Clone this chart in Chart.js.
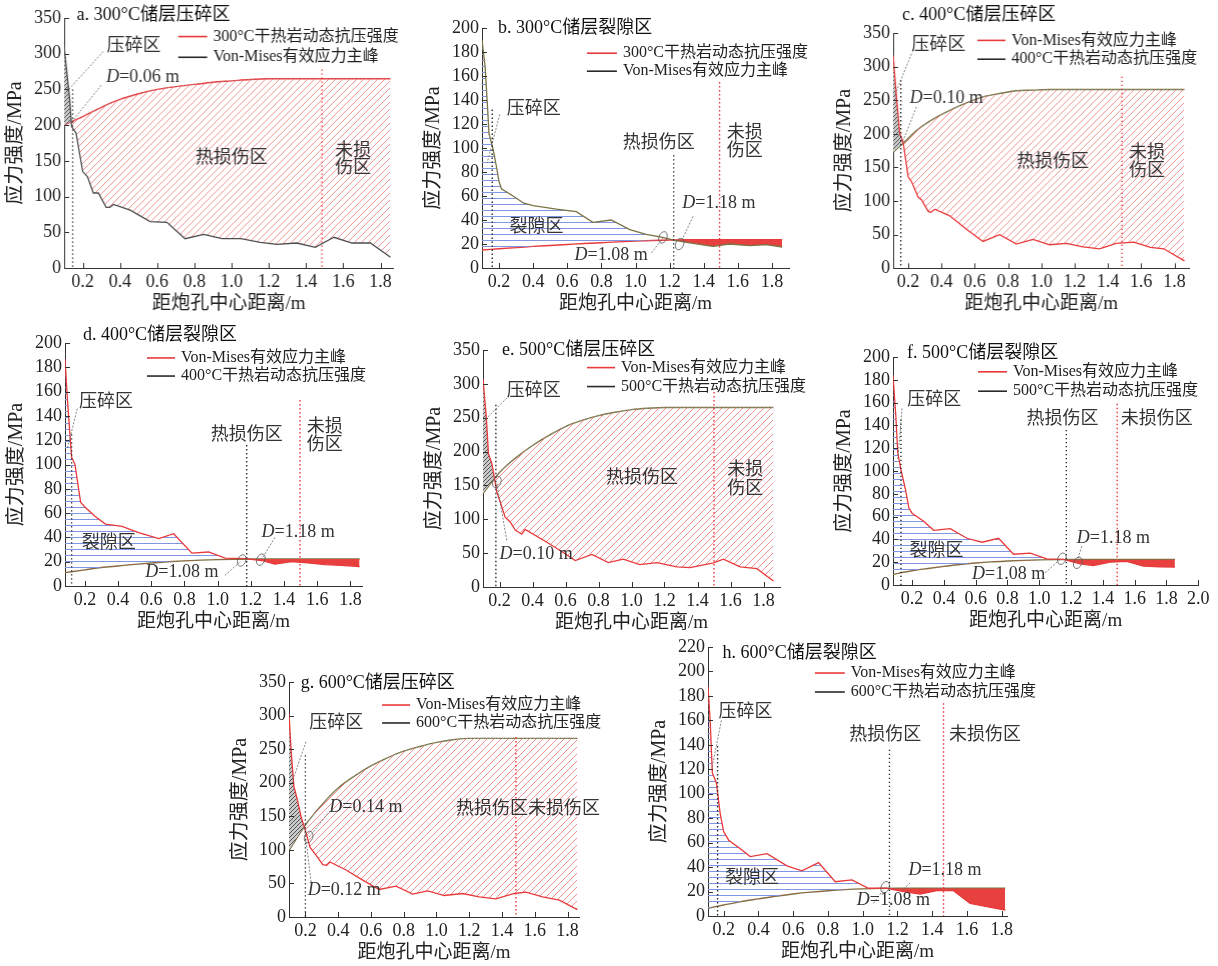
<!DOCTYPE html>
<html>
<head>
<meta charset="utf-8">
<script src="https://cdn.jsdelivr.net/npm/chart.js@4"></script>
<style>
body { margin: 0; background: #fff; width: 1218px; height: 966px; position: relative; overflow: hidden; }
.p { position: absolute; }
</style>
</head>
<body>
<div class="p" id="wa"><canvas id="a"></canvas></div>
<div class="p" id="wb"><canvas id="b"></canvas></div>
<div class="p" id="wc"><canvas id="c"></canvas></div>
<div class="p" id="wd"><canvas id="d"></canvas></div>
<div class="p" id="we"><canvas id="e"></canvas></div>
<div class="p" id="wf"><canvas id="f"></canvas></div>
<div class="p" id="wg"><canvas id="g"></canvas></div>
<div class="p" id="wh"><canvas id="h"></canvas></div>
<script>
// tick labels
const xTicks18 = [0.2, 0.4, 0.6, 0.8, 1.0, 1.2, 1.4, 1.6, 1.8];
const xTicks20 = [0.2, 0.4, 0.6, 0.8, 1.0, 1.2, 1.4, 1.6, 1.8, 2.0];
const yTicks350 = [0, 50, 100, 150, 200, 250, 300, 350];
const yTicks200 = [0, 20, 40, 60, 80, 100, 120, 140, 160, 180, 200];
const yTicks220 = [0, 20, 40, 60, 80, 100, 120, 140, 160, 180, 200, 220];

// a. 300C crushed zone
const distA = [0.1, 0.13, 0.14, 0.164, 0.2, 0.225, 0.257, 0.284, 0.326, 0.345, 0.365, 0.455, 0.562, 0.652, 0.75, 0.85, 0.948, 1.05, 1.154, 1.244, 1.35, 1.45, 1.55, 1.647, 1.746, 1.854];
const vmA = [310, 236, 198, 189, 135, 128, 105, 105, 85, 85, 89, 81, 65, 64, 41, 47, 41, 41, 36, 33, 35, 29, 43, 35, 35, 15];
const strDistA = [0.1, 0.15, 0.2, 0.3, 0.4, 0.5, 0.6, 0.7, 0.8, 0.9, 1.0, 1.1, 1.2, 1.854];
const strA = [200, 206, 212, 225, 236, 244, 250, 254, 257, 260, 262, 264, 265, 265];

// b. 300C fissure zone
const distB = [0.1, 0.118, 0.13, 0.141, 0.165, 0.184, 0.2, 0.214, 0.282, 0.345, 0.4, 0.536, 0.653, 0.75, 0.858, 0.966, 1.063, 1.16, 1.23, 1.318, 1.454, 1.55, 1.67, 1.767, 1.86];
const vmB = [190, 168, 140, 112, 99, 85, 72, 66, 60, 54, 52, 49, 47, 38, 40, 32, 28, 25.5, 23, 21, 18, 20, 18.6, 19.4, 17.5];
const strDistB = [0.1, 0.2, 0.3, 0.4, 0.5, 0.6, 0.7, 0.8, 0.9, 1.0, 1.1, 1.2, 1.3, 1.86];
const strB = [15, 16, 17, 18, 18.8, 19.6, 20.4, 21.1, 21.8, 22.4, 22.9, 23.3, 23.5, 23.5];

// c. 400C crushed zone
const distC = [0.11, 0.13, 0.15, 0.17, 0.2, 0.22, 0.26, 0.28, 0.32, 0.335, 0.36, 0.45, 0.55, 0.65, 0.75, 0.85, 0.95, 1.05, 1.15, 1.25, 1.35, 1.45, 1.555, 1.656, 1.736, 1.86];
const vmC = [317, 255, 200, 188, 136, 129, 106, 102, 85, 83, 88, 78, 58, 40, 50, 36, 43, 35, 37, 32, 29, 37, 39, 31, 29, 11];
const strDistC = [0.11, 0.17, 0.25, 0.35, 0.45, 0.55, 0.65, 0.75, 0.85, 0.95, 1.05, 1.2, 1.86];
const strC = [173, 186, 205, 222, 235, 246, 255, 260, 264, 265, 266, 266, 266];

// d. 400C fissure zone
const distD = [0.08, 0.094, 0.108, 0.12, 0.14, 0.174, 0.2, 0.264, 0.324, 0.424, 0.524, 0.645, 0.735, 0.845, 0.945, 1.045, 1.165, 1.265, 1.345, 1.445, 1.545, 1.645, 1.745, 1.856];
const vmD = [187, 155, 128, 106, 100, 69, 65, 57, 51, 49, 44, 39, 43, 27, 28, 23, 22.5, 21, 18, 20, 19, 17.6, 17, 16];
const strDistD = [0.08, 0.2, 0.3, 0.4, 0.5, 0.6, 0.7, 0.8, 0.9, 1.0, 1.1, 1.2, 1.3, 1.856];
const strD = [11, 13.3, 15.2, 16.5, 17.8, 18.9, 19.9, 20.7, 21.3, 21.7, 22, 22.2, 22.2, 22.2];

// e. 500C crushed zone
const distE = [0.1, 0.12, 0.133, 0.154, 0.184, 0.204, 0.234, 0.265, 0.295, 0.335, 0.355, 0.467, 0.568, 0.659, 0.76, 0.86, 0.95, 1.05, 1.154, 1.275, 1.355, 1.497, 1.557, 1.659, 1.76, 1.86];
const vmE = [308, 251, 197, 182, 140, 126, 103, 96, 84, 78, 85, 69, 54, 39, 48, 36, 41, 33, 36, 29.6, 28.6, 35.5, 41, 29.6, 27, 9];
const strDistE = [0.1, 0.2, 0.3, 0.4, 0.5, 0.6, 0.7, 0.8, 0.9, 1.0, 1.1, 1.2, 1.3, 1.86];
const strE = [138, 169, 191, 209, 224, 237, 246, 253, 258, 262, 264, 265, 265, 265];

// f. 500C fissure zone
const distF = [0.08, 0.097, 0.11, 0.13, 0.158, 0.18, 0.2, 0.273, 0.336, 0.44, 0.545, 0.64, 0.744, 0.838, 0.943, 1.048, 1.152, 1.257, 1.34, 1.445, 1.55, 1.655, 1.76, 1.853];
const vmF = [184, 150, 116, 101, 84, 67.5, 63, 56, 48, 49.5, 41, 37.5, 41, 27, 28, 23, 22.4, 18.6, 17, 20, 20.7, 16.6, 16, 15.7];
const strDistF = [0.08, 0.2, 0.3, 0.4, 0.5, 0.6, 0.7, 0.8, 0.9, 1.0, 1.1, 1.2, 1.853];
const strF = [9.3, 12.5, 14.5, 16.3, 18, 19.3, 20.3, 21, 21.6, 22, 22.3, 22.4, 22.4];

// g. 600C crushed zone
const distG = [0.1, 0.113, 0.13, 0.147, 0.174, 0.2, 0.228, 0.265, 0.306, 0.33, 0.35, 0.448, 0.55, 0.65, 0.753, 0.855, 0.946, 1.048, 1.16, 1.26, 1.363, 1.475, 1.546, 1.648, 1.75, 1.86];
const vmG = [303, 248, 194, 179, 149, 129, 104, 92, 78, 77, 82, 70, 55, 41, 46, 34, 39, 32, 35, 30, 27, 35, 37, 30, 25, 11];
const strDistG = [0.1, 0.2, 0.3, 0.4, 0.5, 0.6, 0.7, 0.8, 0.9, 1.0, 1.1, 1.2, 1.3, 1.86];
const strG = [99, 137, 167, 192, 210, 225, 237, 247, 254, 260, 264, 266, 266, 266];

// h. 600C fissure zone
const distH = [0.11, 0.123, 0.135, 0.158, 0.18, 0.2, 0.229, 0.296, 0.353, 0.45, 0.564, 0.65, 0.746, 0.842, 0.938, 1.033, 1.139, 1.235, 1.33, 1.426, 1.522, 1.618, 1.714, 1.82];
const vmH = [188, 158, 117, 109, 84, 69, 62, 55, 48.6, 51, 41, 37, 43.7, 28, 29.5, 22.7, 22.7, 20, 18, 20.7, 20.7, 10.4, 7.6, 4.9];
const strDistH = [0.11, 0.2, 0.3, 0.4, 0.5, 0.6, 0.7, 0.8, 0.9, 1.0, 1.1, 1.2, 1.82];
const strH = [6.3, 9, 11.8, 14, 16.2, 18, 19.5, 20.7, 21.6, 22.2, 22.6, 22.7, 22.7];

const RED = '#e8393b';
const OLIVE = '#7a7343';
const GREY = '#4d4d4d';
const DARK = '#2a2a2a';
const SERIF = '"Liberation Serif", "Noto Sans CJK SC", serif';

function pattern(size, draw) {
    const c = document.createElement('canvas');
    c.width = size; c.height = size;
    draw(c.getContext('2d'), size);
    return c.getContext('2d').createPattern(c, 'repeat');
}
function diag(color, bg, w) {
    return (g, s) => {
        if (bg) { g.fillStyle = bg; g.fillRect(0, 0, s, s); }
        g.strokeStyle = color; g.lineWidth = w;
        g.beginPath();
        g.moveTo(-1, s + 1); g.lineTo(s + 1, -1);
        g.moveTo(-1, 1); g.lineTo(1, -1);
        g.moveTo(s - 1, s + 1); g.lineTo(s + 1, s - 1);
        g.stroke();
    };
}
const redHatch = pattern(7, diag('rgba(236,110,110,0.75)', null, 1));
const greyHatch = pattern(4, diag('#555', '#c9c9c9', 1));
const blueLines = pattern(6, (g, s) => {
    g.fillStyle = '#8096e2';
    g.fillRect(0, 0, s, 1);
});
const redSolid = '#e8403f';

const crushFill = { above: greyHatch, below: redHatch };
const fissureFill = { above: blueLines, below: redSolid };

const panels = [
    { id: 'a', box: [64.4, 18, 392.9, 268], xr: [0.1, 1.87], ymax: 350, xt: xTicks18, yt: yTicks350,
      vm: [distA, vmA], st: [strDistA, strA], vmColor: GREY, stColor: RED, fill: crushFill,
      title: ['a. 300°C储层压碎区', 0.168, 354],
      legend: { x0: 0.713, x1: 0.869, items: [[RED, '300°C干热岩动态抗压强度', 324], [DARK, 'Von-Mises有效应力主峰', 295]] },
      vlines: [[0.146, 250, DARK], [1.486, 278, RED]],
      leaders: [[0.31, 303, 0.121, 249], [0.30, 256, 0.148, 207]],
      circles: [],
      texts: [['压碎区', 0.329, 310, 'left'], ['D=0.06 m', 0.326, 267, 'left'], ['热损伤区', 1.0, 154, 'center'], ['未损', 1.653, 163, 'center'], ['伤区', 1.653, 140, 'center']] },
    { id: 'b', box: [482, 28, 789, 268], xr: [0.1, 1.9], ymax: 200, xt: xTicks18, yt: yTicks200,
      vm: [distB, vmB], st: [strDistB, strB], vmColor: OLIVE, stColor: RED, fill: fissureFill,
      title: ['b. 300°C储层裂隙区', 0.194, 200],
      legend: { x0: 0.715, x1: 0.891, items: [[RED, '300°C干热岩动态抗压强度', 179], [DARK, 'Von-Mises有效应力主峰', 164]] },
      vlines: [[0.16, 132, DARK], [1.224, 94, DARK], [1.493, 155, RED]],
      leaders: [[0.204, 128, 0.13, 87.5], [1.337, 43, 1.268, 22], [1.093, 12.5, 1.161, 25]],
      circles: [[1.161, 25.5], [1.259, 20]],
      texts: [['压碎区', 0.245, 132, 'left'], ['热损伤区', 1.136, 104, 'center'], ['未损', 1.64, 112, 'center'], ['伤区', 1.64, 97, 'center'], ['裂隙区', 0.42, 34, 'center'], ['D=1.18 m', 1.274, 54, 'left'], ['D=1.08 m', 0.643, 11, 'left']] },
    { id: 'c', box: [893, 32.7, 1188.5, 268], xr: [0.11, 1.89], ymax: 350, xt: xTicks18, yt: yTicks350,
      vm: [distC, vmC], st: [strDistC, strC], vmColor: RED, stColor: OLIVE, fill: crushFill,
      title: ['c. 400°C储层压碎区', 0.164, 376],
      legend: { x0: 0.616, x1: 0.785, items: [[RED, 'Von-Mises有效应力主峰', 339], [DARK, '400°C干热岩动态抗压强度', 311]] },
      vlines: [[0.156, 280, DARK], [1.485, 285, RED]],
      leaders: [[0.22, 319, 0.116, 255], [0.25, 240, 0.17, 190]],
      circles: [],
      texts: [['压碎区', 0.22, 332, 'left'], ['D=0.10 m', 0.21, 253, 'left'], ['热损伤区', 1.07, 158, 'center'], ['未损', 1.636, 171, 'center'], ['伤区', 1.636, 144, 'center']] },
    { id: 'd', box: [65, 343, 362, 586], xr: [0.08, 1.87], ymax: 200, xt: xTicks18, yt: yTicks200,
      vm: [distD, vmD], st: [strDistD, strD], vmColor: RED, stColor: OLIVE, fill: fissureFill,
      title: ['d. 400°C储层裂隙区', 0.188, 206.6],
      legend: { x0: 0.574, x1: 0.743, items: [[RED, 'Von-Mises有效应力主峰', 187.7], [DARK, '400°C干热岩动态抗压强度', 172.8]] },
      vlines: [[0.12, 125, DARK], [1.175, 116, DARK], [1.496, 153, RED]],
      leaders: [[0.154, 146, 0.094, 113], [1.345, 40, 1.265, 22], [1.045, 8.8, 1.141, 20.6]],
      circles: [[1.145, 21], [1.26, 21.7]],
      texts: [['压碎区', 0.164, 151, 'left'], ['热损伤区', 1.175, 124, 'center'], ['未损', 1.646, 131, 'center'], ['伤区', 1.646, 116, 'center'], ['裂隙区', 0.344, 35, 'center'], ['D=1.18 m', 1.265, 44, 'left'], ['D=1.08 m', 0.564, 11.5, 'left']] },
    { id: 'e', box: [483, 350, 780, 587], xr: [0.1, 1.9], ymax: 350, xt: xTicks18, yt: yTicks350,
      vm: [distE, vmE], st: [strDistE, strE], vmColor: RED, stColor: OLIVE, fill: crushFill,
      title: ['e. 500°C储层压碎区', 0.215, 350],
      legend: { x0: 0.73, x1: 0.9, items: [[RED, 'Von-Mises有效应力主峰', 324], [DARK, '500°C干热岩动态抗压强度', 296]] },
      vlines: [[0.178, 269, DARK], [1.5, 288, RED]],
      leaders: [[0.244, 279, 0.113, 247], [0.244, 69, 0.184, 153]],
      circles: [[0.184, 155]],
      texts: [['压碎区', 0.244, 289, 'left'], ['D=0.10 m', 0.2, 49, 'left'], ['热损伤区', 1.063, 160, 'center'], ['未损', 1.69, 172, 'center'], ['伤区', 1.69, 145, 'center']] },
    { id: 'f', box: [893, 357, 1198.3, 585], xr: [0.08, 2.0], ymax: 200, xt: xTicks20, yt: yTicks200,
      vm: [distF, vmF], st: [strDistF, strF], vmColor: RED, stColor: OLIVE, fill: fissureFill,
      title: ['f. 500°C储层裂隙区', 0.168, 203.5],
      legend: { x0: 0.615, x1: 0.797, items: [[RED, 'Von-Mises有效应力主峰', 187], [DARK, '500°C干热岩动态抗压强度', 170]] },
      vlines: [[0.13, 145, DARK], [1.17, 136, DARK], [1.49, 159, RED]],
      leaders: [[0.137, 155, 0.11, 110], [1.267, 34, 1.236, 20], [1.037, 10.8, 1.13, 22.4]],
      circles: [[1.142, 23], [1.242, 19.5]],
      texts: [['压碎区', 0.17, 162, 'left'], ['热损伤区', 1.146, 145.5, 'center'], ['未损伤区', 1.738, 145.5, 'center'], ['裂隙区', 0.353, 29.7, 'center'], ['D=1.18 m', 1.236, 41, 'left'], ['D=1.08 m', 0.577, 9.3, 'left']] },
    { id: 'g', box: [289, 682, 579, 917], xr: [0.1, 1.87], ymax: 350, xt: xTicks18, yt: yTicks350,
      vm: [distG, vmG], st: [strDistG, strG], vmColor: RED, stColor: OLIVE, fill: crushFill,
      title: ['g. 600°C储层压碎区', 0.171, 348.5],
      legend: { x0: 0.668, x1: 0.839, items: [[RED, 'Von-Mises有效应力主峰', 315.7], [DARK, '600°C干热岩动态抗压强度', 289]] },
      vlines: [[0.2, 241, DARK], [1.485, 268, RED]],
      leaders: [[0.204, 261, 0.123, 204], [0.336, 154, 0.224, 119], [0.235, 52, 0.194, 134]],
      circles: [[0.22, 119]],
      texts: [['压碎区', 0.224, 288, 'left'], ['D=0.14 m', 0.346, 164, 'left'], ['D=0.12 m', 0.214, 40, 'left'], ['热损伤区未损伤区', 1.119, 161, 'left']] },
    { id: 'h', box: [708, 647, 1007, 916], xr: [0.11, 1.83], ymax: 220, xt: xTicks18, yt: yTicks220,
      vm: [distH, vmH], st: [strDistH, strH], vmColor: RED, stColor: OLIVE, fill: fissureFill,
      title: ['h. 600°C储层裂隙区', 0.194, 215],
      legend: { x0: 0.725, x1: 0.897, items: [[RED, 'Von-Mises有效应力主峰', 198.7], [DARK, '600°C干热岩动态抗压强度', 183.2]] },
      vlines: [[0.165, 139, DARK], [1.154, 136, DARK], [1.465, 174, RED]],
      leaders: [[0.187, 160, 0.133, 121], [1.273, 27, 1.225, 21], [1.062, 10.4, 1.129, 23.5]],
      circles: [[1.129, 23.5]],
      texts: [['压碎区', 0.171, 167, 'left'], ['热损伤区', 1.129, 148, 'center'], ['未损伤区', 1.704, 148, 'center'], ['裂隙区', 0.363, 31, 'center'], ['D=1.18 m', 1.263, 37.7, 'left'], ['D=1.08 m', 0.966, 12.6, 'left']] }
];

const Y_W = 60, X_H = 48, PAD_T = 28, PAD_R = 40;

function drawLabel(ctx, t, x, y, align) {
    ctx.textBaseline = 'middle';
    if (t.startsWith('D=')) {
        const rest = t.slice(1);
        ctx.font = 'italic 18px ' + SERIF;
        const wD = ctx.measureText('D').width;
        ctx.font = '18px ' + SERIF;
        const wR = ctx.measureText(rest).width;
        let x0 = align === 'center' ? x - (wD + wR) / 2 : x;
        ctx.textAlign = 'left';
        ctx.font = 'italic 18px ' + SERIF;
        ctx.fillText('D', x0, y);
        ctx.font = '18px ' + SERIF;
        ctx.fillText(rest, x0 + wD, y);
    } else {
        ctx.font = '18px ' + SERIF;
        ctx.textAlign = align;
        ctx.fillText(t, x, y);
    }
}

function decor(p) {
    return {
        id: 'decor',
        afterDraw(chart) {
            const { ctx, chartArea: ca, scales } = chart;
            const X = v => scales.x.getPixelForValue(v);
            const Y = v => scales.y.getPixelForValue(v);
            ctx.save();
            // inward ticks
            ctx.strokeStyle = '#333';
            ctx.lineWidth = 1;
            ctx.beginPath();
            p.xt.forEach(v => { const px = Math.round(X(v)) + 0.5; ctx.moveTo(px, ca.bottom); ctx.lineTo(px, ca.bottom - 5); });
            p.yt.forEach(v => { const py = Math.round(Y(v)) + 0.5; ctx.moveTo(ca.left, py); ctx.lineTo(ca.left + 5, py); });
            ctx.stroke();
            // zone boundaries
            ctx.lineWidth = 1.4;
            ctx.setLineDash([1.4, 2.6]);
            p.vlines.forEach(([vx, vt, col]) => {
                ctx.strokeStyle = col;
                ctx.beginPath();
                ctx.moveTo(X(vx), Y(vt));
                ctx.lineTo(X(vx), ca.bottom);
                ctx.stroke();
            });
            // leader lines
            ctx.strokeStyle = '#666';
            ctx.lineWidth = 0.8;
            ctx.setLineDash([2, 1.5]);
            p.leaders.forEach(([x1, y1, x2, y2]) => {
                ctx.beginPath();
                ctx.moveTo(X(x1), Y(y1));
                ctx.lineTo(X(x2), Y(y2));
                ctx.stroke();
            });
            ctx.setLineDash([]);
            ctx.strokeStyle = '#555';
            p.circles.forEach(([cx, cy]) => {
                ctx.beginPath();
                ctx.ellipse(X(cx), Y(cy), 4, 6, 0.4, 0, Math.PI * 2);
                ctx.stroke();
            });
            // texts
            ctx.fillStyle = '#333';
            p.texts.forEach(([t, x, y, a]) => drawLabel(ctx, t, X(x), Y(y), a));
            // legend
            ctx.font = '16px ' + SERIF;
            ctx.textAlign = 'left';
            ctx.textBaseline = 'middle';
            p.legend.items.forEach(([col, label, ly]) => {
                ctx.strokeStyle = col;
                ctx.lineWidth = 1.6;
                ctx.beginPath();
                ctx.moveTo(X(p.legend.x0), Y(ly));
                ctx.lineTo(X(p.legend.x1), Y(ly));
                ctx.stroke();
                ctx.fillStyle = '#222';
                ctx.fillText(label, X(p.legend.x1) + 6, Y(ly));
            });
            // panel title
            ctx.font = '18px ' + SERIF;
            ctx.fillStyle = '#111';
            ctx.fillText(p.title[0], X(p.title[1]), Y(p.title[2]));
            ctx.restore();
        }
    };
}

function makePanel(p) {
    const [l, t, r, b] = p.box;
    const wrap = document.getElementById('w' + p.id);
    wrap.style.left = (l - Y_W) + 'px';
    wrap.style.top = (t - PAD_T) + 'px';
    wrap.style.width = (r - l + Y_W + PAD_R) + 'px';
    wrap.style.height = (b - t + PAD_T + X_H) + 'px';
    const pts = (xs, ys) => xs.map((x, i) => ({ x: x, y: ys[i] }));
    new Chart(document.getElementById(p.id), {
        type: 'line',
        data: {
            datasets: [{
                label: 'Von-Mises有效应力主峰',
                data: pts(p.vm[0], p.vm[1]),
                borderColor: p.vmColor,
                borderWidth: 1.3,
                pointRadius: 0,
                tension: 0,
                fill: { target: 1, above: p.fill.above, below: p.fill.below }
            }, {
                label: '干热岩动态抗压强度',
                data: pts(p.st[0], p.st[1]),
                borderColor: p.stColor,
                borderWidth: 1.4,
                pointRadius: 0,
                cubicInterpolationMode: 'monotone',
                fill: false
            }]
        },
        options: {
            responsive: true,
            maintainAspectRatio: false,
            animation: false,
            layout: { padding: { top: PAD_T, right: PAD_R, left: 0, bottom: 0 } },
            plugins: { legend: { display: false }, tooltip: { enabled: false } },
            scales: {
                x: {
                    type: 'linear', min: p.xr[0], max: p.xr[1],
                    afterBuildTicks: s => { s.ticks = p.xt.map(v => ({ value: v })); },
                    afterFit: s => { s.height = X_H; },
                    grid: { drawOnChartArea: false, drawTicks: false },
                    border: { color: '#333', width: 1 },
                    ticks: { callback: v => v.toFixed(1), font: { family: SERIF, size: 18 }, color: '#222', padding: 3, maxRotation: 0, autoSkip: false },
                    title: { display: true, text: '距炮孔中心距离/m', font: { family: SERIF, size: 19 }, color: '#222', padding: { top: 0, bottom: 1 } }
                },
                y: {
                    min: 0, max: p.ymax,
                    afterBuildTicks: s => { s.ticks = p.yt.map(v => ({ value: v })); },
                    afterFit: s => { s.width = Y_W; },
                    grid: { drawOnChartArea: false, drawTicks: false },
                    border: { color: '#333', width: 1 },
                    ticks: { font: { family: SERIF, size: 18 }, color: '#222', padding: 3, autoSkip: false },
                    title: { display: true, text: '应力强度/MPa', font: { family: SERIF, size: 20 }, color: '#222', padding: 0 }
                }
            }
        },
        plugins: [decor(p)]
    });
}

panels.forEach(makePanel);
</script>
</body>
</html>
